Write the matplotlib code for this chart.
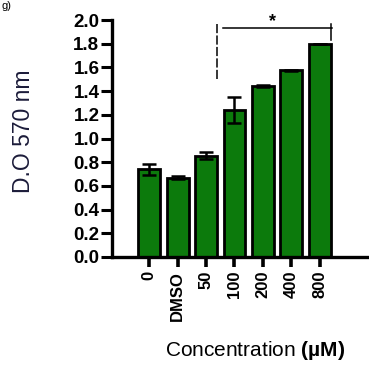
import numpy as np
import matplotlib.pyplot as plt

# -------------------- Data --------------------
groups = ['0', 'DMSO', '50', '100', '200', '400', '800']
od_mean = [0.74, 0.67, 0.855, 1.24, 1.445, 1.575, 1.80]
od_err = [0.045, 0.015, 0.03, 0.11, 0.01, 0.005, 0.0]
# ----------------------------------------------

plt.rcParams['font.family'] = ['Liberation Sans', 'DejaVu Sans']
plt.rcParams['mathtext.fontset'] = 'custom'
plt.rcParams['mathtext.rm'] = 'Liberation Sans'
plt.rcParams['mathtext.bf'] = 'Liberation Sans:bold'

GREEN = '#0c7a0c'

fig = plt.figure(figsize=(3.69, 3.65), dpi=100)
ax = fig.add_axes([0.3035, 0.296, 0.694, 0.649])

x = np.arange(len(groups))
ax.bar(x, od_mean, width=0.77, color=GREEN, edgecolor='black', linewidth=2.0, zorder=2)
ax.errorbar(x, od_mean, yerr=od_err, fmt='none', ecolor='black',
            elinewidth=1.8, capsize=5, capthick=1.8, zorder=3)

ax.set_xlim(-1.31, 7.7)
ax.set_ylim(0, 2.0)
ax.set_yticks(np.arange(0, 2.01, 0.2))
ax.set_yticklabels([f'{v:.1f}' for v in np.arange(0, 2.01, 0.2)],
                   fontsize=13.5, fontweight='bold')
ax.set_xticks(x)
ax.set_xticklabels(groups, rotation=90, fontsize=12, fontweight='bold')

for side in ['top', 'right']:
    ax.spines[side].set_visible(False)
for side in ['left', 'bottom']:
    ax.spines[side].set_linewidth(2.4)
ax.tick_params(axis='y', length=8, width=2.2, pad=1)
ax.tick_params(axis='x', length=7, width=2.6, pad=3)

ax.set_ylabel('D.O 570 nm', fontsize=16.5, color='#1c1c3a', rotation=90)
ax.yaxis.set_label_coords(-0.30, 0.53)
ax.set_xlabel('Concentration $\\mathbf{(µM)}$', fontsize=15)
ax.xaxis.set_label_coords(0.56, -0.345)
ax.xaxis.label.set_va('top')

# significance bracket
ax.plot([2.6, 6.43], [1.93, 1.93], color='black', lw=1.1, clip_on=False)
ax.plot([6.4, 6.4], [1.97, 1.83], color='black', lw=1.1, clip_on=False)
ax.plot([2.37, 2.37], [1.97, 1.50], color='black', lw=1.1, ls=(0, (6, 1.5)), clip_on=False)
ax.text(4.35, 1.985, '*', ha='center', va='center', fontsize=13, fontweight='bold')

fig.text(0.005, 0.998, 'g)', ha='left', va='top', fontsize=8)

fig.savefig('out.png', dpi=100)
